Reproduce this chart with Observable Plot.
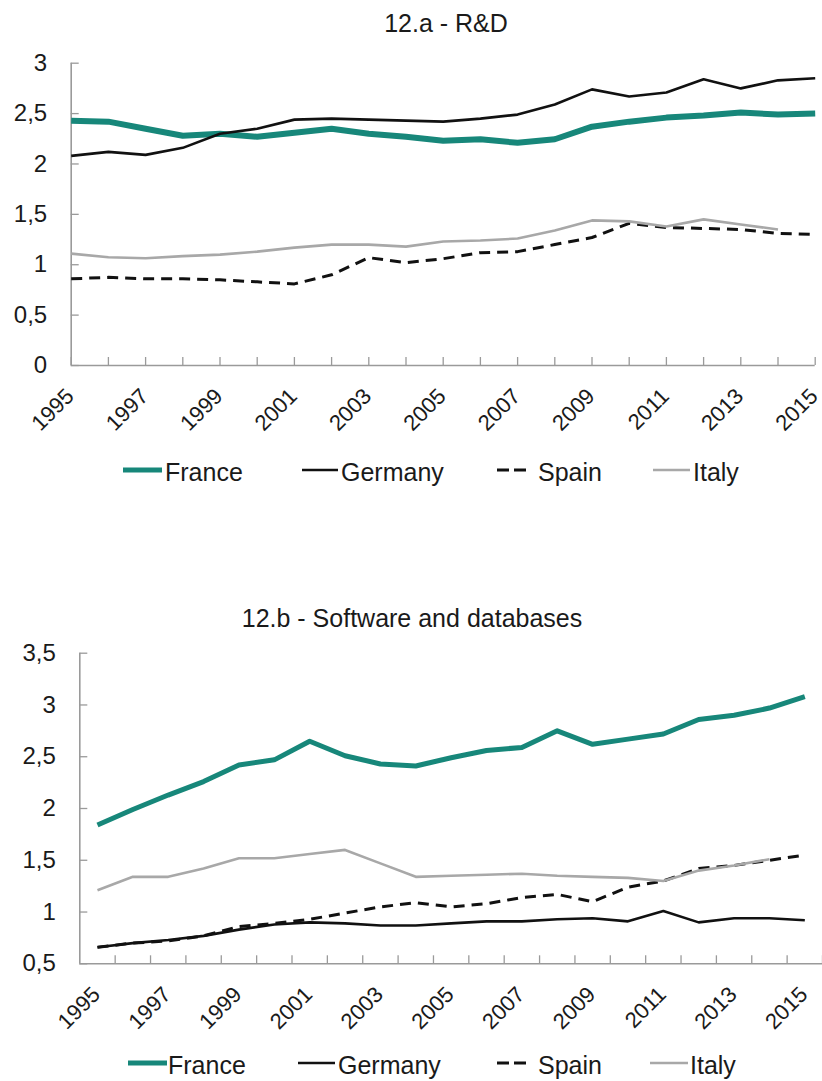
<!DOCTYPE html>
<html><head><meta charset="utf-8">
<script src="https://cdn.jsdelivr.net/npm/d3@7"></script>
<script src="https://cdn.jsdelivr.net/npm/@observablehq/plot@0.6"></script>
<style>
body{margin:0;background:#fff;}
#root{position:relative;width:822px;height:1081px;font-family:"Liberation Sans",Arial,sans-serif;color:#1a1a1a;overflow:hidden;background:#fff;}
.title{position:absolute;font-size:25px;line-height:30px;white-space:nowrap;transform:translateX(-50%);}
.abs{position:absolute;left:0;}
</style></head><body><div id="root"></div>
<script>
// ---------- data ----------
const years = [1995,1996,1997,1998,1999,2000,2001,2002,2003,2004,2005,2006,2007,2008,2009,2010,2011,2012,2013,2014,2015];
const labelYears = [1995,1997,1999,2001,2003,2005,2007,2009,2011,2013,2015];
const countries = ["France","Germany","Spain","Italy"];

const rdTitle = "12.a - R&D";
const rdFrance  = [2.43,2.42,2.35,2.28,2.30,2.27,2.31,2.35,2.30,2.27,2.23,2.245,2.21,2.245,2.37,2.42,2.46,2.48,2.51,2.49,2.50];
const rdGermany = [2.08,2.12,2.09,2.16,2.30,2.35,2.44,2.45,2.44,2.43,2.42,2.45,2.49,2.59,2.74,2.67,2.71,2.84,2.75,2.83,2.85];
const rdSpain   = [0.86,0.875,0.86,0.86,0.85,0.83,0.81,0.90,1.07,1.02,1.06,1.12,1.13,1.20,1.27,1.41,1.37,1.36,1.35,1.31,1.30];
const rdItaly   = [1.11,1.075,1.065,1.085,1.10,1.13,1.17,1.20,1.20,1.18,1.23,1.24,1.26,1.34,1.44,1.43,1.38,1.45,1.40,1.35,null];
const rdYTicks  = [0,0.5,1,1.5,2,2.5,3];

const swTitle = "12.b - Software and databases";
const swFrance  = [1.84,1.99,2.13,2.26,2.42,2.47,2.65,2.51,2.43,2.41,2.49,2.56,2.59,2.75,2.62,2.67,2.72,2.86,2.90,2.97,3.08];
const swGermany = [0.66,0.70,0.73,0.77,0.83,0.88,0.90,0.89,0.87,0.87,0.89,0.91,0.91,0.93,0.94,0.91,1.01,0.90,0.94,0.94,0.92];
const swSpain   = [0.66,0.70,0.72,0.77,0.86,0.89,0.93,0.99,1.05,1.09,1.05,1.08,1.14,1.17,1.10,1.24,1.30,1.42,1.45,1.50,1.55];
const swItaly   = [1.21,1.34,1.34,1.42,1.52,1.52,1.56,1.60,1.47,1.34,1.35,1.36,1.37,1.35,1.34,1.33,1.30,1.40,1.45,1.51,null];
const swYTicks  = [0.5,1,1.5,2,2.5,3,3.5];

// ---------- styles ----------
const TEAL = "#17877a", BLACK = "#111", GRAY = "#a8a8a8", AXIS = "#9a9a9a";
const FONT = '"Liberation Sans", Arial, sans-serif';
const styleOf = {
  France:  {stroke: TEAL,  strokeWidth: 5.5},
  Germany: {stroke: BLACK, strokeWidth: 2.6},
  Spain:   {stroke: BLACK, strokeWidth: 3, strokeDasharray: "11,7"},
  Italy:   {stroke: GRAY,  strokeWidth: 2.6}
};
const comma = d => String(d).replace(".", ",");
const toRows = (arr, country) => years.map((year, i) => ({year, value: arr[i], country}));

function makePanel(o) {
  const frameW = o.width - o.marginLeft - o.marginRight;
  const frameH = o.height - o.marginTop - o.marginBottom;
  const lines = o.series.map(([c, arr]) => Plot.line(toRows(arr, c), {
    x: "year", y: "value", ...styleOf[c], ...(c === "France" ? {strokeWidth: o.franceWidth} : {}),
    strokeLinejoin: "round", strokeLinecap: "butt"
  }));
  return Plot.plot({
    width: o.width, height: o.height,
    marginTop: o.marginTop, marginBottom: o.marginBottom,
    marginLeft: o.marginLeft, marginRight: o.marginRight,
    style: {fontFamily: FONT, fontSize: "24px", color: "#1a1a1a", background: "transparent"},
    x: {type: "linear", domain: o.xDomain, axis: null},
    y: {domain: o.yDomain, ticks: o.yTicks, tickSize: 0, tickPadding: 24, tickFormat: comma, label: null},
    marks: [
      Plot.ruleX(o.xTicks, {stroke: AXIS, strokeWidth: 1.3, insetTop: frameH - 8}),
      Plot.ruleY(o.yTicks, {stroke: AXIS, strokeWidth: 1.3, insetRight: frameW - 8}),
      Plot.ruleX([o.xDomain[0]], {stroke: AXIS, strokeWidth: 1.6}),
      Plot.ruleY([o.yDomain[0]], {stroke: AXIS, strokeWidth: 1.6}),
      ...lines,
      Plot.text(labelYears, {x: d => d, frameAnchor: "bottom", text: d => String(d),
        rotate: -45, textAnchor: "end", lineAnchor: "middle", dy: 27, dx: -1,
        fontSize: 22, fill: "#1a1a1a"})
    ]
  });
}

const root = document.getElementById("root");
function addTitle(text, cx, top) {
  const d = document.createElement("div");
  d.className = "title"; d.textContent = text;
  d.style.left = cx + "px"; d.style.top = top + "px";
  root.appendChild(d);
}
function addPanel(svg, top) {
  const w = document.createElement("div");
  w.className = "abs"; w.style.top = top + "px";
  w.appendChild(svg); root.appendChild(w);
}
function addLegend(top, items) {
  const svg = d3.create("svg").attr("width", 822).attr("height", 38)
    .style("position", "absolute").style("left", "0px").style("top", top + "px")
    .style("overflow", "visible")
    .style("font-family", FONT).style("font-size", "25px");
  for (const it of items) {
    const s = styleOf[it.name];
    svg.append("line").attr("x1", it.x1).attr("x2", it.x2).attr("y1", 20).attr("y2", 20)
      .attr("stroke", s.stroke).attr("stroke-width", it.name === "France" ? 5 : (it.name === "Spain" ? 3 : 2.6))
      .attr("stroke-dasharray", it.name === "Spain" ? "12,5" : null);
    svg.append("text").attr("x", it.tx).attr("y", 31).attr("fill", "#1a1a1a").text(it.name);
  }
  root.appendChild(svg.node());
}

// Panel A
addTitle(rdTitle, 446, 8);
addPanel(makePanel({
  width: 822, height: 400, marginTop: 22.7, marginBottom: 75, marginLeft: 70.7, marginRight: 7.3,
  xDomain: [1995, 2015], xTicks: years, yDomain: [0, 3], yTicks: rdYTicks, franceWidth: 6,
  series: [["France", rdFrance], ["Germany", rdGermany], ["Spain", rdSpain], ["Italy", rdItaly]]
}), 40);
addLegend(450, [
  {name: "France",  x1: 123, x2: 162, tx: 165},
  {name: "Germany", x1: 302, x2: 338, tx: 341},
  {name: "Spain",   x1: 497, x2: 528, tx: 538},
  {name: "Italy",   x1: 653, x2: 690, tx: 693}
]);

// Panel B
addTitle(swTitle, 412, 603);
addPanel(makePanel({
  width: 822, height: 405, marginTop: 22.7, marginBottom: 71.7, marginLeft: 79.3, marginRight: 0,
  xDomain: [1994.5, 2015.5], xTicks: years.map(y => y + 0.5), yDomain: [0.5, 3.5], yTicks: swYTicks, franceWidth: 5,
  series: [["France", swFrance], ["Germany", swGermany], ["Spain", swSpain], ["Italy", swItaly]]
}), 630);
addLegend(1043, [
  {name: "France",  x1: 128, x2: 167, tx: 168},
  {name: "Germany", x1: 298, x2: 335, tx: 338},
  {name: "Spain",   x1: 497, x2: 528, tx: 538},
  {name: "Italy",   x1: 650, x2: 688, tx: 690}
]);
</script></body></html>
